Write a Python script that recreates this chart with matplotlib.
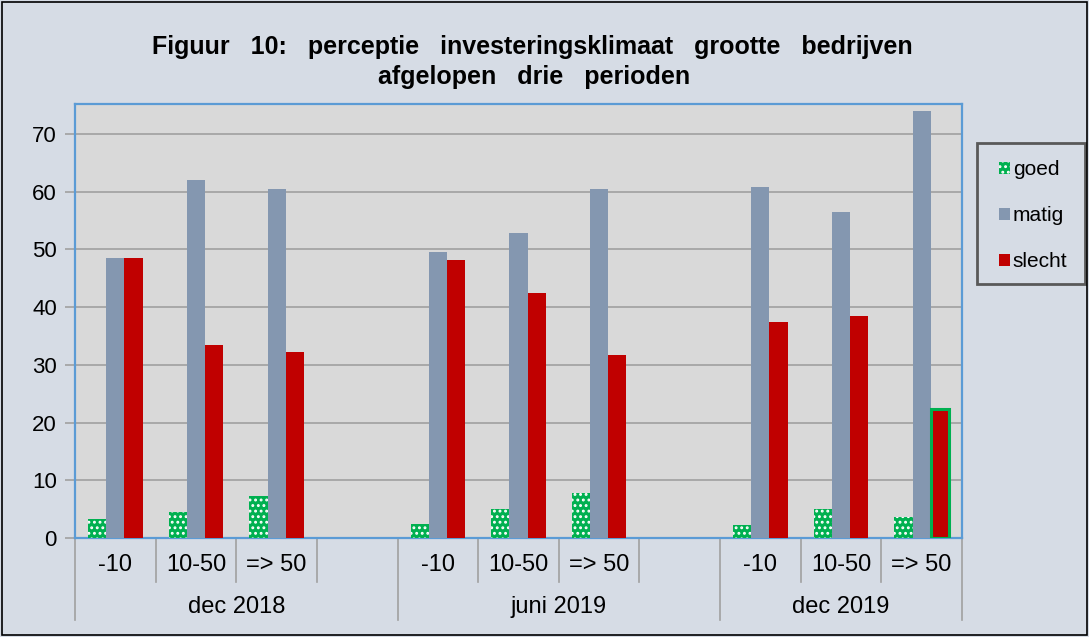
import matplotlib
matplotlib.use("Agg")
import matplotlib.pyplot as plt
from matplotlib.patches import Rectangle
import matplotlib.transforms as mtransforms
import numpy as np

plt.rcParams['font.family'] = ['Liberation Sans', 'DejaVu Sans']
plt.rcParams['hatch.linewidth'] = 1.3

periods = ["dec 2018", "juni 2019", "dec 2019"]
sizes = ["-10", "10-50", "=> 50"]
series = ["goed", "matig", "slecht"]
goed = [3.3, 4.5, 7.3, 2.5, 5.0, 7.8, 2.2, 5.0, 3.6]
matig = [48.5, 62.0, 60.5, 49.5, 52.8, 60.5, 60.8, 56.5, 74.0]
slecht = [48.5, 33.5, 32.3, 48.2, 42.5, 31.7, 37.5, 38.5, 22.3]

bg = '#d6dce5'
fig = plt.figure(figsize=(10.89, 6.37), dpi=100, facecolor=bg)
fig.patches.append(Rectangle((0.002, 0.003), 0.996, 0.994, transform=fig.transFigure,
                             fill=False, edgecolor='black', linewidth=1.2, zorder=10))
ax = fig.add_axes([75/1089, 1-538/637, (962-75)/1089, (538-104)/637])
ax.set_facecolor('#d9d9d9')

# slot positions: 3 sizes per period plus one empty slot between periods
slots = []
for p in range(len(periods)):
    for s in range(len(sizes)):
        slots.append(p * 4 + s + 0.5)
slots = np.array(slots)
w = 0.225
c_goed, c_matig, c_slecht = '#00b050', '#8497b0', '#c00000'

ax.bar(slots - w, goed, w, color=c_goed, edgecolor='white', linewidth=0, hatch='...', zorder=3, label=series[0])
ax.bar(slots, matig, w, color=c_matig, linewidth=0, zorder=3, label=series[1])
bars = ax.bar(slots + w, slecht, w, color=c_slecht, linewidth=0, zorder=3, label=series[2])
bars[-1].set_edgecolor(c_goed)
bars[-1].set_linewidth(2.2)

ax.set_xlim(0, 11)
ax.set_ylim(0, 75.2)
ax.set_yticks(range(0, 71, 10))
ax.yaxis.grid(True, color='#a0a0a0', linewidth=1.2, zorder=0)
ax.set_axisbelow(True)
ax.tick_params(axis='y', labelsize=16, length=7, color='#a0a0a0', width=1.2, pad=6)
ax.set_xticks([])
for sp in ax.spines.values():
    sp.set_color('#5b9bd5')
    sp.set_linewidth(1.6)

# hierarchical x axis
tr = mtransforms.blended_transform_factory(ax.transData, ax.transAxes)
for x in [1, 2, 3, 5, 6, 7, 9, 10]:
    ax.plot([x, x], [0, -0.101], transform=tr, color='#a0a0a0', lw=1.2, clip_on=False)
for x in [0, 4, 8, 11]:
    ax.plot([x, x], [0, -0.189], transform=tr, color='#a0a0a0', lw=1.2, clip_on=False)
for i, x in enumerate(slots):
    ax.text(x, -0.062, sizes[i % 3], transform=tr, ha='center', va='center', fontsize=17)
for p, xc in zip(periods, [2, 6, 9.5]):
    ax.text(xc, -0.159, p, transform=tr, ha='center', va='center', fontsize=17)

fig.text(532/1089, 1-47/637, "Figuur   10:   perceptie   investeringsklimaat   grootte   bedrijven",
         ha='center', va='center', fontsize=18, fontweight='bold')
fig.text(534/1089, 1-77/637, "afgelopen   drie   perioden",
         ha='center', va='center', fontsize=18, fontweight='bold')

# legend box
fig.patches.append(Rectangle((977/1089, 1-284/637), 108/1089, 141/637, transform=fig.transFigure,
                             facecolor=bg, edgecolor='#595959', linewidth=2, zorder=5))
leg = fig.legend(loc='upper left', bbox_to_anchor=(993/1089, 1-154/637), fontsize=15,
                 handlelength=0.5, handleheight=0.5, handletextpad=0.15, labelspacing=1.3,
                 borderpad=0.3, borderaxespad=0, frameon=False)
leg.set_zorder(6)

fig.savefig('out.png', dpi=100, facecolor=bg)
